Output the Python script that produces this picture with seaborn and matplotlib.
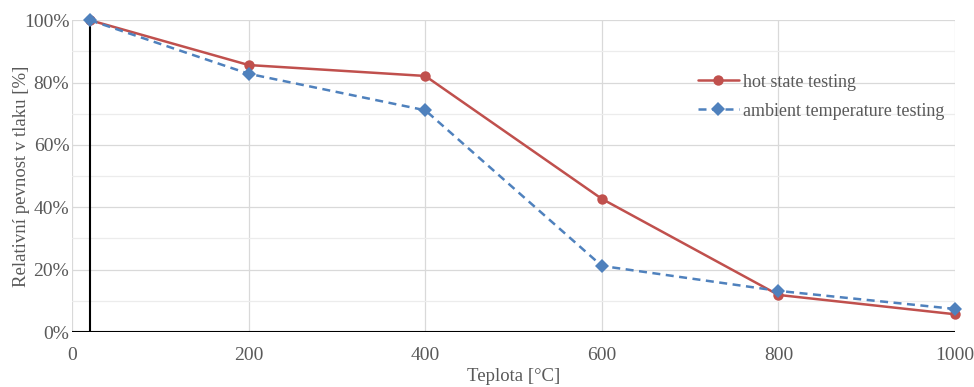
import seaborn as sns
import matplotlib.pyplot as plt
import pandas as pd
from matplotlib.ticker import PercentFormatter, MultipleLocator

temps = [20, 200, 400, 600, 800, 1000]
hot = [100, 85.6, 82.1, 42.7, 11.9, 5.7]
ambient = [100, 82.8, 71.1, 21.2, 13.2, 7.4]
labels = ['hot state testing', 'ambient temperature testing']

data = pd.DataFrame({
    'temp': temps * 2,
    'value': [v / 100 for v in hot + ambient],
    'series': [labels[0]] * len(temps) + [labels[1]] * len(temps),
})

sns.set_style('white')
plt.rcParams['font.family'] = ['Liberation Serif', 'DejaVu Serif']
grey = '#595959'

fig = plt.figure(figsize=(9.74, 3.87), dpi=100)
ax = fig.add_axes([0.074, 0.142, 0.9065, 0.806])

ax = sns.lineplot(data=data, x='temp', y='value', hue='series', style='series',
                  palette=['#C0504D', '#4F81BD'], markers=['o', 'D'],
                  dashes=[(None, None), (3.2, 2.2)], markersize=7.5, linewidth=1.8,
                  markeredgewidth=0, ax=ax, clip_on=False, zorder=3)

ax.set_xlim(0, 1000)
ax.set_ylim(0, 1)
ax.xaxis.set_major_locator(MultipleLocator(200))
ax.yaxis.set_major_locator(MultipleLocator(0.2))
ax.yaxis.set_minor_locator(MultipleLocator(0.1))
ax.yaxis.set_major_formatter(PercentFormatter(1.0, decimals=0))
ax.grid(True, which='major', color='#d9d9d9', linewidth=0.9)
ax.grid(True, which='minor', axis='y', color='#ececec', linewidth=0.9)
for s in ax.spines.values():
    s.set_visible(False)
ax.axvline(20, color='black', linewidth=1.5, zorder=2)
ax.axhline(0, color='black', linewidth=1.5, zorder=2)

ax.tick_params(axis='both', which='both', length=0, labelsize=14, colors=grey, pad=2)
ax.tick_params(axis='x', pad=11)
ax.set_xlabel('Teplota [°C]', fontsize=13.5, color=grey)
ax.set_ylabel('Relativní pevnost v tlaku [%]', fontsize=13.5, color=grey)
ax.yaxis.set_label_coords(-0.048, 0.5)
ax.xaxis.set_label_coords(0.5, -0.115)

ax.legend(loc='upper left', bbox_to_anchor=(0.69, 0.88), frameon=False, fontsize=13,
          labelcolor=grey, handlelength=2.3, handletextpad=0.2, labelspacing=0.65)

plt.savefig('out.png', dpi=100)
